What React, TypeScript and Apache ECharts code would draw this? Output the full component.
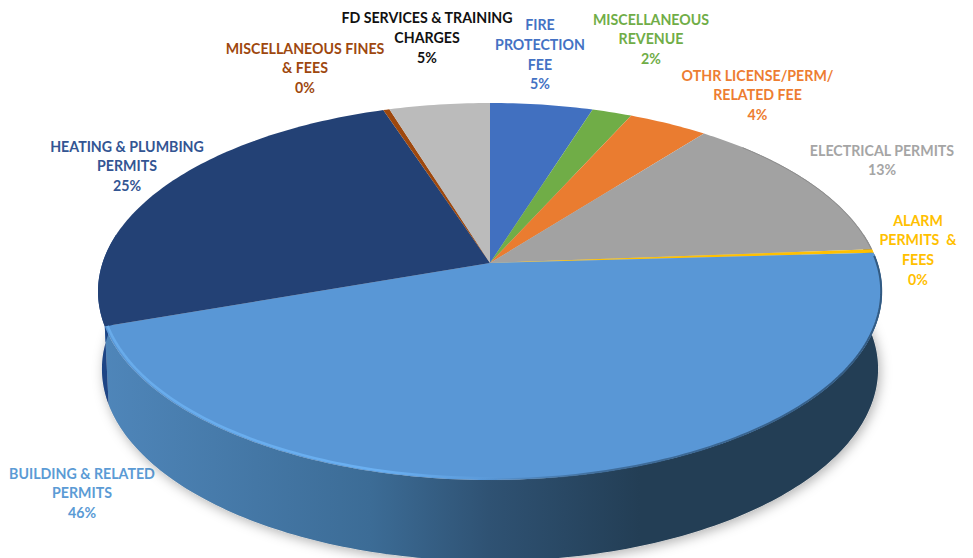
import React, { useEffect, useRef } from "react";
import * as echarts from "echarts";

const categories = [
  ["FIRE", "PROTECTION", "FEE"],
  ["MISCELLANEOUS", "REVENUE"],
  ["OTHR LICENSE/PERM/", "RELATED FEE"],
  ["ELECTRICAL PERMITS"],
  ["ALARM", "PERMITS  &", "FEES"],
  ["BUILDING & RELATED", "PERMITS"],
  ["HEATING & PLUMBING", "PERMITS"],
  ["MISCELLANEOUS FINES", "& FEES"],
  ["FD SERVICES & TRAINING", "CHARGES"],
];
const shares = [4.9, 1.9, 3.8, 13.2, 0.3, 45.6, 25.2, 0.3, 4.8];
const topColors = ["#4170C0", "#70AD47", "#EA7C30", "#A2A2A2", "#FFC000", "#5997D6", "#234175", "#9E480E", "#BBBBBB"];
const labelColors = ["#4472C4", "#70AD47", "#ED7D31", "#A5A5A5", "#FFC000", "#5B9BD5", "#335593", "#9E480E", "#111111"];
const labelAnchors = [
  [540, 14.5], [651, 9.2], [757.5, 65.2], [882, 140.2], [918, 210.2], [82, 463.2], [127, 136.2], [305, 38.2], [427, 8],
];

const G = { cx: 490, cy: 263, a: 387.5, b: 184.2, w: 0.151, depth: 77, sx: 0.99, sy: 1.0186 };

function project(deg: number, depth = 0, sx = 1, sy = 1, r = 1) {
  const t = (deg * Math.PI) / 180;
  const u = Math.sin(t) * r;
  const v = -Math.cos(t) * r;
  const d = 1 - G.w * v;
  return [G.cx + (G.a * sx * u) / d, G.cy + depth + (G.b * sy * v) / d];
}
function arc(from: number, to: number, depth = 0, sx = 1, sy = 1, r = 1) {
  const pts: number[][] = [];
  const n = Math.max(2, Math.ceil(Math.abs(to - from)));
  for (let i = 0; i <= n; i++) pts.push(project(from + ((to - from) * i) / n, depth, sx, sy, r));
  return pts;
}

const bounds: number[][] = [];
{
  let acc = 0;
  shares.forEach((v) => {
    bounds.push([(acc / 100) * 360, ((acc + v) / 100) * 360]);
    acc += v;
  });
}
const rows = bounds.map((b, i) => [b[0], b[1], i]);

const VIS_FROM = 81;
const VIS_TO = 279;

export default function App() {
  const ref = useRef<HTMLDivElement>(null);
  useEffect(() => {
    document.body.style.margin = "0";
    const chart = echarts.init(ref.current!, undefined, { renderer: "svg" });
    const buildingSide = new echarts.graphic.LinearGradient(
      100, 0, 640, 0,
      [
        { offset: 0, color: "#4F86BA" },
        { offset: 0.5, color: "#3C6C96" },
        { offset: 0.72, color: "#2F5273" },
        { offset: 1, color: "#233E55" },
      ],
      true
    );
    const rim = new echarts.graphic.LinearGradient(
      100, 0, 500, 0,
      [
        { offset: 0, color: "#68ABEA" },
        { offset: 0.7, color: "#6AB0F2" },
        { offset: 1, color: "rgba(106,176,242,0)" },
      ],
      true
    );
    const darkEdge = new echarts.graphic.LinearGradient(
      480, 0, 880, 0,
      [
        { offset: 0, color: "rgba(60,105,150,0)" },
        { offset: 0.3, color: "rgba(60,105,150,0.9)" },
        { offset: 1, color: "rgba(50,90,130,1)" },
      ],
      true
    );
    const sideFill = (i: number) =>
      i === 5 ? buildingSide : i === 6 ? "#1E4585" : i === 3 ? "#6E6E6E" : topColors[i];

    chart.setOption({
      animation: false,
      backgroundColor: "#ffffff",
      tooltip: { show: false },
      series: [
        {
          type: "custom",
          coordinateSystem: "none",
          silent: true,
          data: [[0]],
          z: 1,
          renderItem: () => ({
            type: "polygon",
            shape: { points: arc(0, 360, G.depth, G.sx, G.sy) },
            style: { fill: "#cccccc", shadowBlur: 12, shadowColor: "rgba(0,0,0,0.3)", shadowOffsetX: 2, shadowOffsetY: 3 },
          }),
        },
        {
          type: "custom",
          coordinateSystem: "none",
          silent: true,
          data: rows,
          z: 2,
          renderItem: (_p: any, api: any) => {
            const from = Math.max(api.value(0), VIS_FROM);
            const to = Math.min(api.value(1), VIS_TO);
            if (to <= from) return null;
            const i = api.value(2);
            return {
              type: "polygon",
              shape: { points: [...arc(from, to), ...arc(to, from, G.depth, G.sx, G.sy)] },
              style: { fill: sideFill(i) },
            };
          },
        },
        {
          type: "custom",
          coordinateSystem: "none",
          silent: true,
          data: rows,
          z: 3,
          renderItem: (_p: any, api: any) => {
            const i = api.value(2);
            return {
              type: "polygon",
              shape: { points: [[G.cx, G.cy], ...arc(api.value(0), api.value(1))] },
              style: { fill: topColors[i] },
            };
          },
        },
        {
          type: "custom",
          coordinateSystem: "none",
          silent: true,
          data: [[bounds[5][1], 176, 0], [bounds[5][0] + 1, 182, 1], [bounds[3][0] + 8, bounds[3][1], 2]],
          z: 4,
          renderItem: (_p: any, api: any) => {
            const kind = api.value(2);
            const stroke = kind === 0 ? rim : kind === 1 ? darkEdge : "#8C8C8C";
            return {
              type: "polyline",
              shape: { points: arc(api.value(0), api.value(1), 0, 1, 1, kind === 0 ? 0.993 : 0.998) },
              style: { stroke, lineWidth: kind === 0 ? 2.5 : kind === 1 ? 2 : 1, fill: "none" },
            };
          },
        },
      ],
      graphic: {
        elements: categories.map((lines, i) => ({
          type: "text",
          x: labelAnchors[i][0],
          y: labelAnchors[i][1],
          silent: true,
          style: {
            text: [...lines, `${Math.round(shares[i])}%`].join("\n"),
            fill: labelColors[i],
            font: "bold 14.2px Lato",
            lineHeight: 19.8,
            align: "center",
            verticalAlign: "top",
          },
        })),
      },
    });
    return () => chart.dispose();
  }, []);
  return <div ref={ref} style={{ width: 973, height: 558 }} />;
}
